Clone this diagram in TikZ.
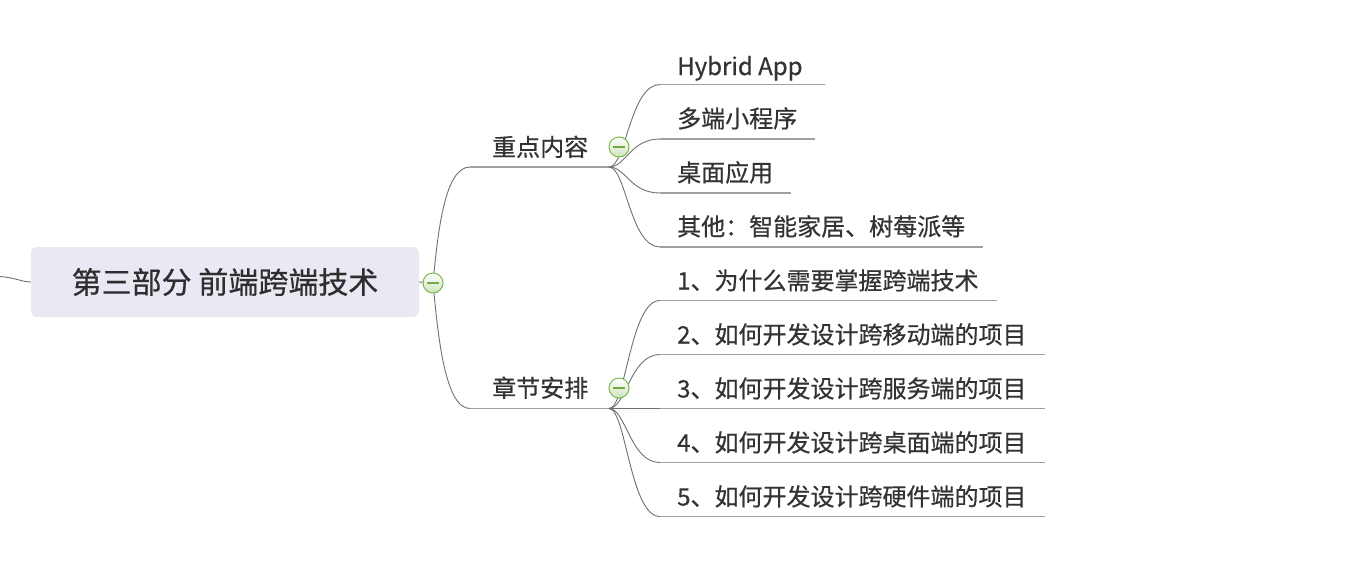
\documentclass[tikz,border=0pt]{standalone}
\usepackage{fontspec}
\setmainfont{Noto Sans CJK SC}[FakeBold=0.6]
\definecolor{textc}{HTML}{333333}
\definecolor{connc}{HTML}{707070}
\definecolor{ulc}{HTML}{A0A0A0}
\definecolor{mainfill}{HTML}{E8E9F2}
\definecolor{foldg}{HTML}{7DB84A}
\definecolor{foldfill}{HTML}{CFE4BE}
\definecolor{foldm}{HTML}{72AA42}
\begin{document}
\begin{tikzpicture}[x=1pt,y=-1pt,
  txt/.style={font=\fontsize{24}{28}\selectfont, text=textc, inner sep=0pt, anchor=base west},
  mainbox/.style={rectangle, rounded corners=6pt, fill=mainfill, minimum width=388pt, minimum height=70pt, inner sep=0pt, font=\fontsize{30}{34}\selectfont, text=textc!90!black},
  uline/.style={draw=ulc, line width=1.5pt},
  conn/.style={draw=connc, line width=0.9pt},
  fold/.style={circle, draw=foldg, line width=1pt, minimum size=20pt, inner sep=0pt, top color=white, bottom color=foldfill,
    path picture={\draw[foldm, line width=2pt] ([xshift=-6pt]path picture bounding box.center) -- ([xshift=6pt]path picture bounding box.center);}}]
\useasboundingbox (0,0) rectangle (1368,582);

% main node
\node[mainbox] (m) at (225,282) {第三部分 前端跨端技术};
\coordinate (lstub) at (0,276.5);
\draw[conn] (lstub) .. controls (15,277.5) and (22,282) .. (m.west);

% branch points
\coordinate (mfold) at (433,283);
\coordinate (b1s) at (470,167);
\coordinate (b1e) at (609,167);
\coordinate (b2s) at (470,408.5);
\coordinate (b2e) at (609,408.5);

\draw[conn] (m.east) -- (mfold);
\draw[conn] (mfold) .. controls +(5,-53) and +(-25,0) .. (b1s);
\draw[conn] (mfold) .. controls +(5,53) and +(-25,0) .. (b2s);
\draw[uline] (b1s) -- (b1e);
\draw[uline] (b2s) -- (b2e);

\node[txt] (b1) at (492,156) {重点内容};
\node[txt] (b2) at (492,397) {章节安排};

% children of 重点内容
\coordinate (u1s) at (660,84.5);  \coordinate (u1e) at (825,84.5);
\coordinate (u2s) at (660,139);   \coordinate (u2e) at (815,139);
\coordinate (u3s) at (660,193);   \coordinate (u3e) at (791,193);
\coordinate (u4s) at (660,247);   \coordinate (u4e) at (983,247);
\foreach \i in {1,2,3,4}{
  \draw[conn] (b1e) .. controls +(17,0) and +(-30,0) .. (u\i s);
  \draw[uline] (u\i s) -- (u\i e);
}
\node[txt] (c1) at (677,75) {Hybrid App};
\node[txt] (c2) at (677,127.5) {多端小程序};
\node[txt] (c3) at (677,181.5) {桌面应用};
\node[txt] (c4) at (677,235.5) {其他：智能家居、树莓派等};

% children of 章节安排
\coordinate (v1s) at (660,300.5); \coordinate (v1e) at (997,300.5);
\coordinate (v2s) at (660,354.5); \coordinate (v2e) at (1045,354.5);
\coordinate (v3s) at (660,408.5); \coordinate (v3e) at (1045,408.5);
\coordinate (v4s) at (660,462.5); \coordinate (v4e) at (1045,462.5);
\coordinate (v5s) at (660,516.5); \coordinate (v5e) at (1045,516.5);
\foreach \i in {1,2,3,4,5}{
  \draw[conn] (b2e) .. controls +(17,0) and +(-30,0) .. (v\i s);
  \draw[uline] (v\i s) -- (v\i e);
}
\node[txt] (d1) at (677,289.5) {1、为什么需要掌握跨端技术};
\node[txt] (d2) at (677,343.5) {2、如何开发设计跨移动端的项目};
\node[txt] (d3) at (677,397.5) {3、如何开发设计跨服务端的项目};
\node[txt] (d4) at (677,451.5) {4、如何开发设计跨桌面端的项目};
\node[txt] (d5) at (677,505.5) {5、如何开发设计跨硬件端的项目};

% fold markers
\node[fold] (f0) at (mfold) {};
\node[fold] (f1) at (619,147) {};
\node[fold] (f2) at (619,388) {};
\end{tikzpicture}
\end{document}
